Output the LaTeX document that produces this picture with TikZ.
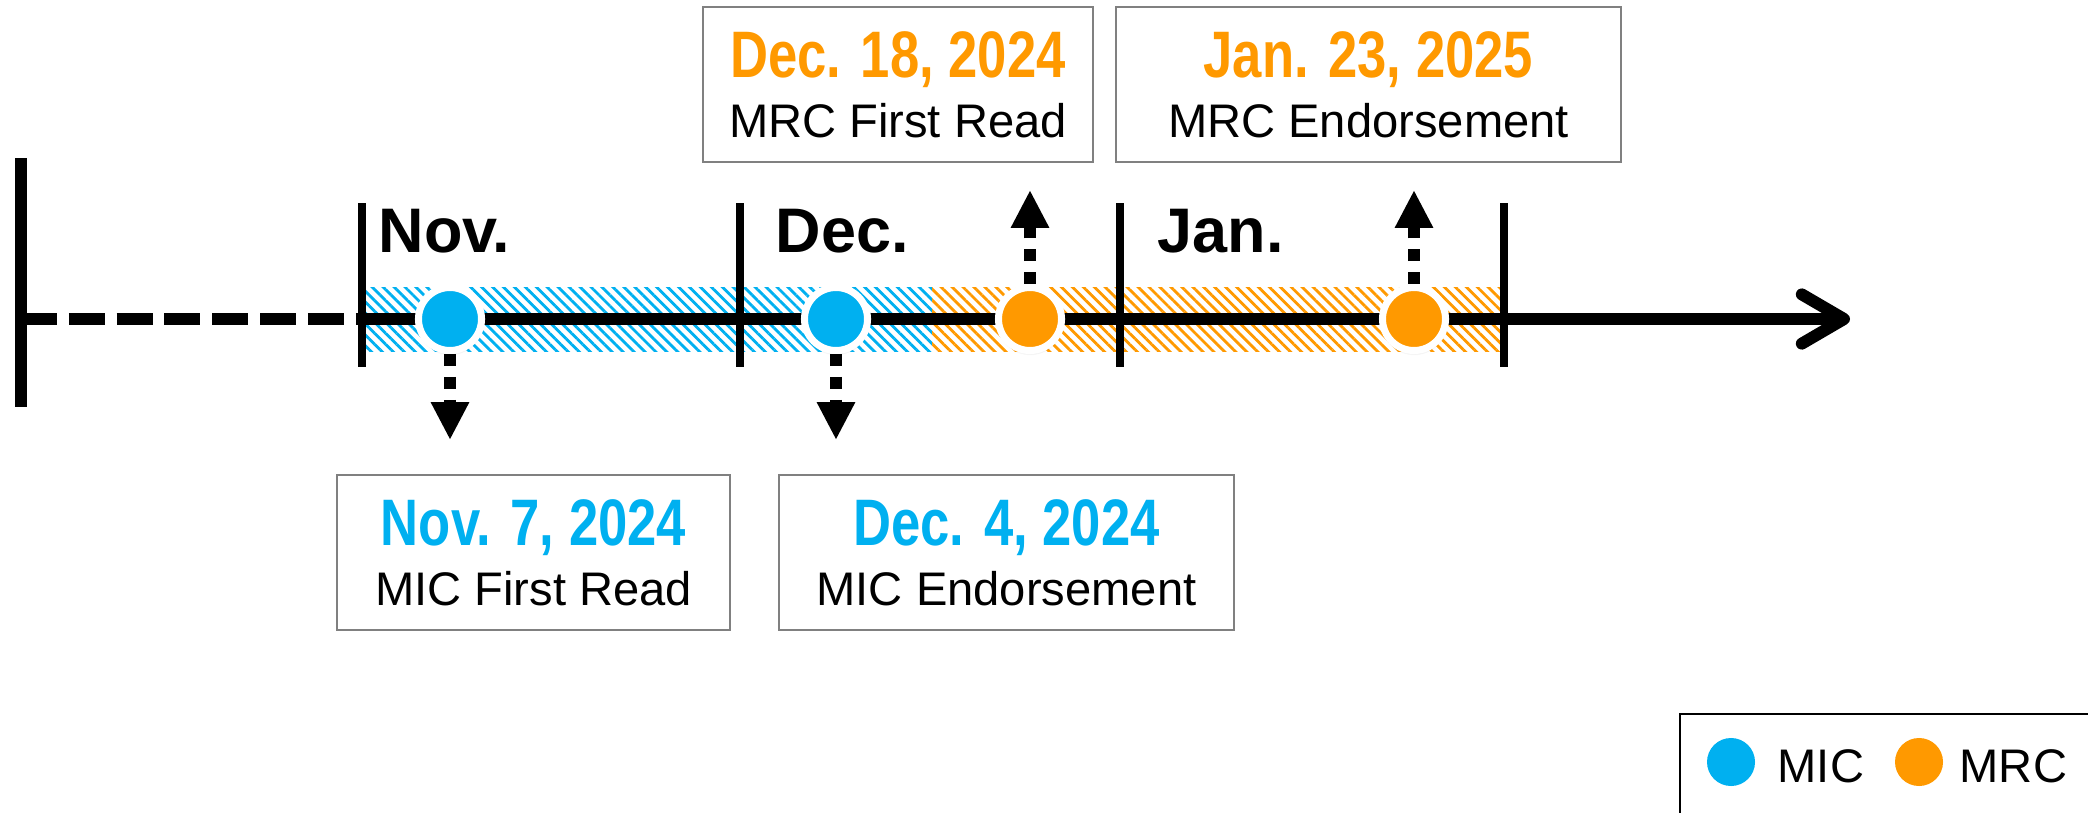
\documentclass[tikz,border=0pt]{standalone}
\usepackage{fontspec}
\setmainfont{Liberation Sans}
\newfontfamily\datefont[FakeStretch=0.8]{Liberation Sans}
\usepackage{tikz}
\usetikzlibrary{arrows.meta,patterns.meta,shadows}
\definecolor{micblue}{RGB}{0,176,240}
\definecolor{mrcorange}{RGB}{255,153,0}
\definecolor{boxgray}{RGB}{128,128,128}

\begin{document}
\begin{tikzpicture}[x=0.01cm, y=-0.01cm,
		event/.style={circle, draw=white, line width=2pt, minimum size=0.63cm, inner sep=0pt,
			circular drop shadow={shadow xshift=0pt, shadow yshift=-0.6pt, shadow scale=1.08, opacity=0.3}},
		datebox/.style={draw=boxgray, line width=0.6pt, minimum height=1.55cm, align=center, inner sep=0pt,
			font=\fontsize{13.4}{17}\selectfont},
		pointer/.style={line width=3.4pt, dash pattern=on 3.4pt off 3.1pt,
			-{Triangle[length=10.8pt, width=10.2pt]}},
		month/.style={anchor=base west, inner sep=0pt, font=\bfseries\fontsize{17.9}{20}\selectfont}]
	\useasboundingbox (0,0) rectangle (2088,812);
	% hatched bands
	\fill[pattern={Lines[angle=-45, distance=2.2pt, line width=0.8pt]}, pattern color=micblue]
		(362,287) rectangle (932,351);
	\fill[pattern={Lines[angle=-45, distance=2.2pt, line width=0.8pt]}, pattern color=mrcorange]
		(932,287) rectangle (1504,351);
	% time line
	\coordinate (start) at (21,319);
	\coordinate (t0) at (362,319);
	\coordinate (tip) at (1850,319);
	\draw[line width=3.4pt] (21,158) -- (21,407);
	\draw[line width=3.4pt, dash pattern=on 10.2pt off 3.4pt] (start) -- (t0);
	\draw[line width=3.4pt, -{Straight Barb[length=12pt, width=14pt, round]}] (t0) -- (tip);
	\foreach \x in {362, 740, 1120, 1504}
		\draw[line width=2.3pt] (\x, 203) -- (\x, 367);
	\node[month] (nov) at (378,252) {Nov.};
	\node[month] (dec) at (775,252) {Dec.};
	\node[month] (jan) at (1157,252) {Jan.};
	% events
	\node[event, fill=micblue] (nov7) at (450,319) {};
	\node[event, fill=micblue] (dec4) at (836,319) {};
	\node[event, fill=mrcorange] (dec18) at (1030,319) {};
	\node[event, fill=mrcorange] (jan23) at (1414,319) {};
	\coordinate (nov7end) at (450,440);
	\coordinate (dec4end) at (836,440);
	\coordinate (dec18end) at (1030,190);
	\coordinate (jan23end) at (1414,190);
	\draw[pointer] (nov7) -- (nov7end);
	\draw[pointer] (dec4) -- (dec4end);
	\draw[pointer] (dec18) -- (dec18end);
	\draw[pointer] (jan23) -- (jan23end);
	% boxes
	\node[datebox, minimum width=3.9cm] (dec18box) at (898,84.5)
		{{\datefont\bfseries\color{mrcorange}\fontsize{18.7}{17}\selectfont Dec. 18, 2024}\\MRC First Read};
	\node[datebox, minimum width=5.05cm] (jan23box) at (1368.5,84.5)
		{{\datefont\bfseries\color{mrcorange}\fontsize{18.7}{17}\selectfont Jan. 23, 2025}\\MRC Endorsement};
	\node[datebox, minimum width=3.93cm] (nov7box) at (533.5,552.5)
		{{\datefont\bfseries\color{micblue}\fontsize{18.7}{17}\selectfont Nov. 7, 2024}\\MIC First Read};
	\node[datebox, minimum width=4.55cm] (dec4box) at (1006.5,552.5)
		{{\datefont\bfseries\color{micblue}\fontsize{18.7}{17}\selectfont Dec. 4, 2024}\\MIC Endorsement};
	% legend
	\draw[line width=0.7pt] (1680,714) rectangle (2100,830);
	\node[circle, fill=micblue, minimum size=0.48cm, inner sep=0pt] (micdot) at (1731,762) {};
	\node[anchor=base west, inner sep=0pt, font=\fontsize{13.4}{16}\selectfont] (miclabel) at (1777,782) {MIC};
	\node[circle, fill=mrcorange, minimum size=0.48cm, inner sep=0pt] (mrcdot) at (1919,762) {};
	\node[anchor=base west, inner sep=0pt, font=\fontsize{13.4}{16}\selectfont] (mrclabel) at (1959,782) {MRC};
\end{tikzpicture}
\end{document}
